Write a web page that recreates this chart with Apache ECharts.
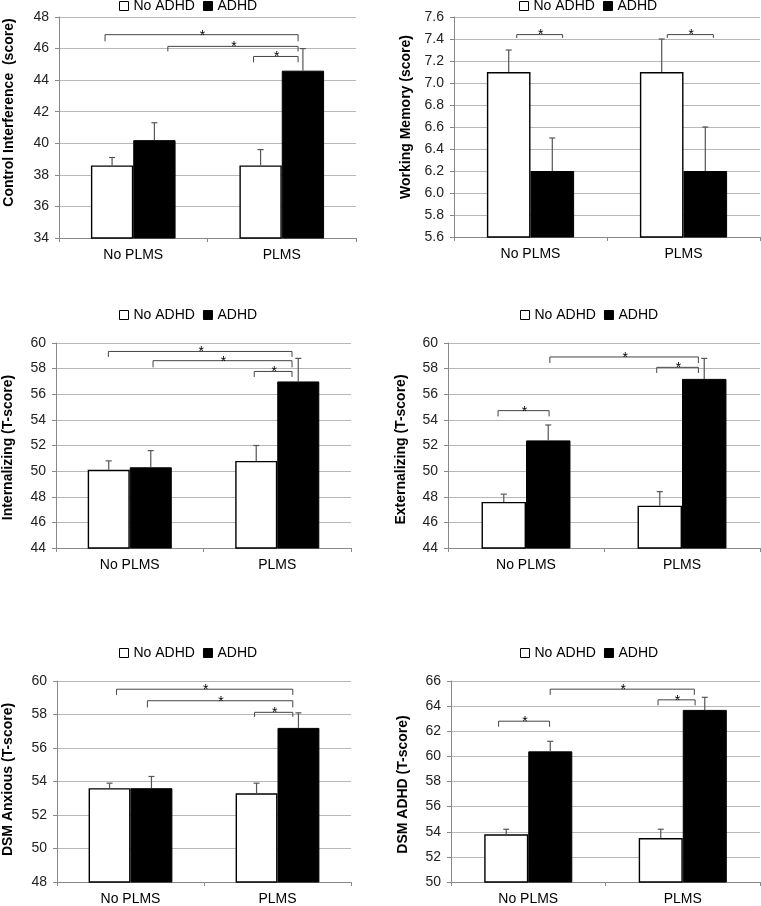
<!DOCTYPE html>
<html><head><meta charset="utf-8">
<script src="https://cdn.jsdelivr.net/npm/echarts@6/dist/echarts.min.js"></script>
<style>html,body{margin:0;padding:0;background:#fff}#c{width:761px;height:906px}</style>
</head><body><div id="c"></div>
<script>
// ---------- DATA ----------
const categories = ['No PLMS', 'PLMS'];
const seriesNames = ['No ADHD', 'ADHD'];

// Panel 1: Control Interference (score)
const ciNoADHD = [38.6, 38.6];
const ciADHD = [40.2, 44.6];
const ciNoADHDErrTop = [39.1, 39.6];
const ciADHDErrTop = [41.3, 46.0];
const ciTicks = [34, 48, 2];
// brackets: [from (category units), to (category units), line value, leg end value]
const ciBrackets = [[-0.19, 1.11, 46.88, 46.46], [0.233, 1.11, 46.14, 45.82], [0.81, 1.11, 45.5, 45.13]];

// Panel 2: Working Memory (score)
const wmNoADHD = [7.1, 7.1];
const wmADHD = [6.2, 6.2];
const wmNoADHDErrTop = [7.3, 7.4];
const wmADHDErrTop = [6.5, 6.6];
const wmTicks = [5.6, 7.6, 0.2];
const wmBrackets = [[-0.09, 0.21, 7.44, 7.41], [0.894, 1.195, 7.44, 7.41]];

// Panel 3: Internalizing (T-score)
const inNoADHD = [50.1, 50.8];
const inADHD = [50.3, 57.0];
const inNoADHDErrTop = [50.8, 52.0];
const inADHDErrTop = [51.6, 58.8];
const inTicks = [44, 60, 2];
const inBrackets = [[-0.145, 1.10, 59.34, 58.91], [0.158, 1.10, 58.62, 58.1], [0.844, 1.10, 57.78, 57.35]];

// Panel 4: Externalizing (T-score)
const exNoADHD = [47.6, 47.3];
const exADHD = [52.4, 57.2];
const exNoADHDErrTop = [48.2, 48.4];
const exADHDErrTop = [53.6, 58.8];
const exTicks = [44, 60, 2];
const exBrackets = [[-0.179, 0.148, 54.72, 54.27], [0.153, 1.105, 58.91, 58.44], [0.838, 1.105, 58.1, 57.66]];

// Panel 5: DSM Anxious (T-score)
const axNoADHD = [53.6, 53.3];
const axADHD = [53.6, 57.2];
const axNoADHDErrTop = [53.9, 53.9];
const axADHDErrTop = [54.3, 58.1];
const axTicks = [48, 60, 2];
const axBrackets = [[-0.095, 1.104, 59.51, 59.17], [0.115, 1.104, 58.82, 58.42], [0.844, 1.104, 58.13, 57.86]];

// Panel 6: DSM ADHD (T-score)
const adNoADHD = [53.8, 53.5];
const adADHD = [60.4, 63.7];
const adNoADHDErrTop = [54.2, 54.2];
const adADHDErrTop = [61.2, 64.7];
const adTicks = [50, 66, 2];
const adBrackets = [[-0.192, 0.138, 62.8, 62.36], [0.142, 1.075, 65.35, 64.9], [0.84, 1.08, 64.5, 64.06]];

// ---------- LAYOUT ----------
const FONT = '"Liberation Sans", Arial, sans-serif';
const panels = [
  {name: 'Control Interference  (score)', a: ciNoADHD, b: ciADHD, ea: ciNoADHDErrTop, eb: ciADHDErrTop, t: ciTicks, br: ciBrackets, dec: 0,
   grid: {left: 59, top: 17, width: 297, height: 221}, nameGap: 43, namePad: [0, 0, 0, 30], legend: {left: 119, top: -1}},
  {name: 'Working Memory (score)', a: wmNoADHD, b: wmADHD, ea: wmNoADHDErrTop, eb: wmADHDErrTop, t: wmTicks, br: wmBrackets, dec: 1,
   grid: {left: 454, top: 17, width: 306, height: 220}, nameGap: 41, namePad: [0, 0, 0, 20], legend: {left: 519, top: -1}},
  {name: 'Internalizing (T-score)', a: inNoADHD, b: inADHD, ea: inNoADHDErrTop, eb: inADHDErrTop, t: inTicks, br: inBrackets, dec: 0,
   grid: {left: 54, top: 343, width: 297, height: 205}, nameGap: 41, namePad: [0, 4, 0, 0], legend: {left: 119, top: 308}},
  {name: 'Externalizing (T-score)', a: exNoADHD, b: exADHD, ea: exNoADHDErrTop, eb: exADHDErrTop, t: exTicks, br: exBrackets, dec: 0,
   grid: {left: 448, top: 343, width: 312, height: 205}, nameGap: 40, namePad: [0, 8, 0, 0], legend: {left: 520, top: 308}},
  {name: 'DSM Anxious (T-score)', a: axNoADHD, b: axADHD, ea: axNoADHDErrTop, eb: axADHDErrTop, t: axTicks, br: axBrackets, dec: 0,
   grid: {left: 56, top: 681, width: 295, height: 203}, nameGap: 42, namePad: [0, 0, 0, 4], legend: {left: 119, top: 646}},
  {name: 'DSM ADHD (T-score)', a: adNoADHD, b: adADHD, ea: adNoADHDErrTop, eb: adADHDErrTop, t: adTicks, br: adBrackets, dec: 0,
   grid: {left: 451, top: 681, width: 309, height: 203}, nameGap: 41, namePad: [0, 6, 0, 0], legend: {left: 520, top: 646}}
];

const BAR_W = 0.285;
const AXIS_GRAY = '#898989';

function errRender(offset) {
  return function (params, api) {
    const i = api.value(0);
    const base = api.coord([i, api.value(1)]);
    const top = api.coord([i, api.value(2)]);
    const band = api.size([1, 0])[0];
    const x = base[0] + offset * band;
    const cap = 3;
    const st = {stroke: '#555', lineWidth: 1.2};
    return {type: 'group', children: [
      {type: 'line', shape: {x1: x, y1: base[1], x2: x, y2: top[1]}, style: st},
      {type: 'line', shape: {x1: x - cap, y1: top[1], x2: x + cap, y2: top[1]}, style: st}
    ]};
  };
}

function bracketRender(list) {
  return function (params, api) {
    const b = list[params.dataIndex];
    const p0 = api.coord([0, b[2]]);
    const leg = api.coord([0, b[3]])[1];
    const band = api.size([1, 0])[0];
    const xa = p0[0] + b[0] * band, xb = p0[0] + b[1] * band, y = p0[1];
    return {type: 'group', children: [
      {type: 'polyline', shape: {points: [[xa, leg], [xa, y], [xb, y], [xb, leg]]},
       style: {stroke: '#444', lineWidth: 1, fill: null}},
      {type: 'text', style: {text: '*', x: (xa + xb) / 2 + 1, y: y + 1, align: 'center', verticalAlign: 'middle',
       font: '14px ' + FONT, fill: '#000'}}
    ]};
  };
}

const option = {
  animation: false,
  backgroundColor: '#fff',
  grid: panels.map(p => Object.assign({containLabel: false}, p.grid)),
  legend: panels.map(p => ({
    left: p.legend.left, top: p.legend.top, padding: 0, itemWidth: 9, itemHeight: 9, itemGap: 8,
    selectedMode: false, icon: 'rect',
    textStyle: {fontSize: 14, color: '#000', fontFamily: FONT},
    data: [
      {name: seriesNames[0], itemStyle: {color: '#fff', borderColor: '#000', borderWidth: 1}},
      {name: seriesNames[1], itemStyle: {color: '#000', borderColor: '#000', borderWidth: 1}}
    ]
  })),
  xAxis: panels.map((p, k) => ({
    type: 'category', gridIndex: k, data: categories,
    axisLine: {lineStyle: {color: AXIS_GRAY, width: 1}},
    axisTick: {show: true, length: 4, lineStyle: {color: AXIS_GRAY}},
    axisLabel: {fontSize: 14, color: '#000', fontFamily: FONT, margin: 10},
    splitLine: {show: false}
  })),
  yAxis: panels.map((p, k) => ({
    type: 'value', gridIndex: k, min: p.t[0], max: p.t[1], interval: p.t[2],
    name: p.name, nameLocation: 'middle', nameGap: p.nameGap,
    nameTextStyle: {fontSize: 14, fontWeight: 'bold', color: '#000', fontFamily: FONT, padding: p.namePad},
    axisLine: {show: true, lineStyle: {color: AXIS_GRAY, width: 1}},
    axisTick: {show: true, length: 4, lineStyle: {color: AXIS_GRAY}},
    axisLabel: {fontSize: 14, color: '#222', fontFamily: FONT, margin: 10,
      formatter: v => v.toFixed(p.dec)},
    splitLine: {show: true, lineStyle: {color: '#b8b8b8', width: 1}}
  })),
  series: []
};

panels.forEach((p, k) => {
  option.series.push({
    type: 'bar', name: seriesNames[0], xAxisIndex: k, yAxisIndex: k, data: p.a,
    barWidth: (BAR_W * 100) + '%', barGap: '0%',
    itemStyle: {color: '#fff', borderColor: '#000', borderWidth: 1.4}, z: 2
  });
  option.series.push({
    type: 'bar', name: seriesNames[1], xAxisIndex: k, yAxisIndex: k, data: p.b,
    barWidth: (BAR_W * 100) + '%', barGap: '0%',
    itemStyle: {color: '#000', borderColor: '#000', borderWidth: 1}, z: 2
  });
  option.series.push({
    type: 'custom', xAxisIndex: k, yAxisIndex: k, z: 3, silent: true,
    renderItem: errRender(-BAR_W / 2),
    data: categories.map((c, i) => [i, p.a[i], p.ea[i]])
  });
  option.series.push({
    type: 'custom', xAxisIndex: k, yAxisIndex: k, z: 3, silent: true,
    renderItem: errRender(BAR_W / 2),
    data: categories.map((c, i) => [i, p.b[i], p.eb[i]])
  });
  option.series.push({
    type: 'custom', xAxisIndex: k, yAxisIndex: k, z: 4, silent: true, clip: false,
    renderItem: bracketRender(p.br),
    data: p.br.map(b => [0, b[2]])
  });
});

const chart = echarts.init(document.getElementById('c'), null, {renderer: 'canvas'});
chart.setOption(option);
</script>
</body></html>
